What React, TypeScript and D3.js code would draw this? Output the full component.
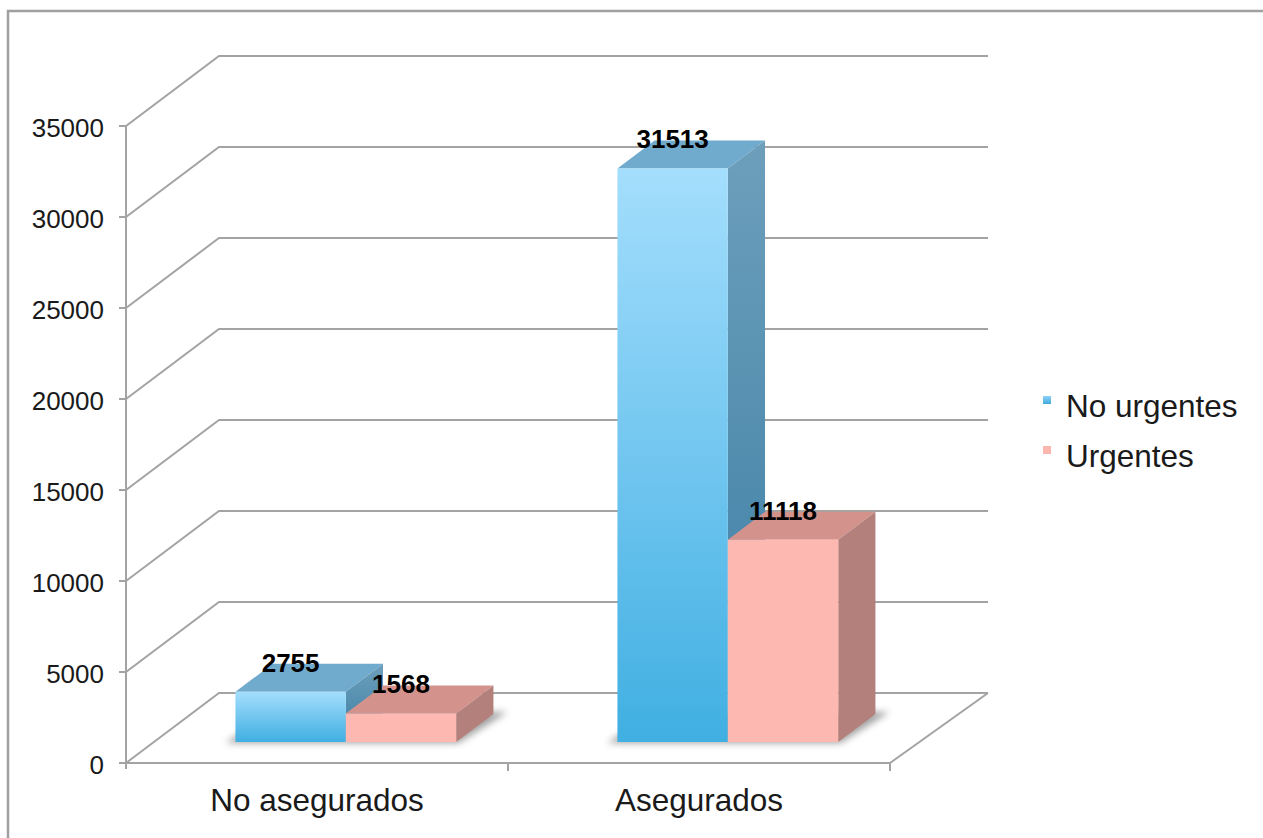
import React from "react";
import * as d3 from "d3";

const categories = ["No asegurados", "Asegurados"];
const seriesNames = ["No urgentes", "Urgentes"];
const noUrgentes = [2755, 31513];
const urgentes = [1568, 11118];
const yTicks = [0, 5000, 10000, 15000, 20000, 25000, 30000, 35000];

const W = 1263;
const H = 838;
const FONT = "'Liberation Sans', Arial, Helvetica, sans-serif";
const GRID = "#a3a3a3";

export default function App() {
  const left = 126;
  const right = 890;
  const y = d3.scaleLinear().domain([0, 35000]).range([763, 126]);
  const DX = 93;
  const DY = -70;
  const backRight = 988;

  const x0 = d3.scaleBand<string>().domain(categories).range([left, right]).padding(0);
  const x1 = d3
    .scaleBand<string>()
    .domain(seriesNames)
    .range([0, x0.bandwidth()])
    .paddingInner(0)
    .paddingOuter(0.73);

  const z0 = 0.31;
  const zd = 0.4;
  const fdx = z0 * DX;
  const fdy = z0 * DY;
  const bdx = zd * DX;
  const bdy = zd * DY;

  const values = [noUrgentes, urgentes];
  const colors = [
    { front: "url(#blueFront)", top: "#70aacd", side: "url(#blueSide)", legend: "url(#blueLegend)" },
    { front: "#fdb8b1", top: "#d4928c", side: "#b4807b", legend: "#fcb6b0" },
  ];

  const bars: any[] = [];
  categories.forEach((c, ci) => {
    seriesNames.forEach((s, si) => {
      const v = values[si][ci];
      const xl = (x0(c) as number) + (x1(s) as number) + fdx;
      const xr = xl + x1.bandwidth();
      const yb = y(0) - 21;
      const yt = y(v) - 21;
      bars.push({ c, s, si, v, xl, xr, yb, yt });
    });
  });

  const pts = (arr: number[][]) => arr.map((p) => p.join(",")).join(" ");

  return (
    <svg
      width={W}
      height={H}
      style={{ position: "absolute", left: 0, top: 0, background: "#fff" }}
      fontFamily={FONT}
    >
      <defs>
        <linearGradient id="blueFront" x1="0" y1="0" x2="0" y2="1">
          <stop offset="0" stopColor="#a4defd" />
          <stop offset="1" stopColor="#40afe2" />
        </linearGradient>
        <linearGradient id="blueSide" x1="0" y1="0" x2="0" y2="1">
          <stop offset="0" stopColor="#6d9fbb" />
          <stop offset="1" stopColor="#3b7ea5" />
        </linearGradient>
        <linearGradient id="blueLegend" x1="0" y1="0" x2="0" y2="1">
          <stop offset="0" stopColor="#8fd2f6" />
          <stop offset="1" stopColor="#3ea9dd" />
        </linearGradient>
        <filter id="shadowBlur" x="-50%" y="-50%" width="200%" height="200%">
          <feGaussianBlur stdDeviation="3.5" />
        </filter>
      </defs>

      <rect x={8} y={11} width={W + 20} height={H + 20} fill="none" stroke="#a0a0a0" strokeWidth={2.5} />

      {yTicks.map((t) => (
        <polyline
          key={"g" + t}
          points={pts([
            [left, y(t)],
            [left + DX, y(t) + DY],
            [backRight, y(t) + DY],
          ])}
          fill="none"
          stroke={GRID}
          strokeWidth={2}
        />
      ))}
      <line x1={right} y1={y(0)} x2={right + DX + 5} y2={y(0) + DY} stroke={GRID} strokeWidth={2} />
      <line x1={left} y1={y(0)} x2={right} y2={y(0)} stroke={GRID} strokeWidth={2} />
      <line x1={left} y1={y(35000)} x2={left} y2={y(0) + 6} stroke={GRID} strokeWidth={2} />
      {yTicks.map((t) => (
        <g key={"t" + t}>
          <line x1={left - 7} y1={y(t)} x2={left} y2={y(t)} stroke={GRID} strokeWidth={2} />
          <text x={104} y={y(t) + 11} textAnchor="end" fontSize={26} fill="#1a1a1a">
            {t}
          </text>
        </g>
      ))}
      {[...categories.map((c) => x0(c) as number), right].map((xv, i) =>
        i === 0 ? null : (
          <line key={"ct" + i} x1={xv} y1={y(0)} x2={xv} y2={y(0) + 8} stroke={GRID} strokeWidth={2} />
        )
      )}
      {categories.map((c) => (
        <text
          key={"cl" + c}
          x={(x0(c) as number) + x0.bandwidth() / 2}
          y={811}
          textAnchor="middle"
          fontSize={31.5}
          fill="#1a1a1a"
        >
          {c}
        </text>
      ))}

      {categories.map((c) => {
        const bs = bars.filter((b) => b.c === c);
        const xl = bs[0].xl;
        const xr = bs[bs.length - 1].xr;
        const yb = bs[0].yb;
        return (
          <polygon
            key={"sh" + c}
            points={pts([
              [xl - 10, yb + 1],
              [xr + 2, yb + 1],
              [xr + bdx + 14, yb + bdy - 2],
              [xl + bdx, yb + bdy - 2],
            ])}
            fill="#555"
            opacity={0.55}
            filter="url(#shadowBlur)"
          />
        );
      })}

      {bars.map((b, i) => {
        const col = colors[b.si];
        return (
          <g key={"b" + i}>
            <polygon
              points={pts([
                [b.xl, b.yt],
                [b.xl + bdx, b.yt + bdy],
                [b.xr + bdx, b.yt + bdy],
                [b.xr, b.yt],
              ])}
              fill={col.top}
            />
            <polygon
              points={pts([
                [b.xr, b.yt],
                [b.xr + bdx, b.yt + bdy],
                [b.xr + bdx, b.yb + bdy],
                [b.xr, b.yb],
              ])}
              fill={col.side}
            />
            <rect x={b.xl} y={b.yt} width={b.xr - b.xl} height={b.yb - b.yt} fill={col.front} />
          </g>
        );
      })}

      {bars.map((b, i) => (
        <text
          key={"vl" + i}
          x={(b.xl + b.xr) / 2}
          y={b.yt - 20}
          textAnchor="middle"
          fontSize={26}
          fontWeight="bold"
          fill="#000"
        >
          {b.v}
        </text>
      ))}

      {seriesNames.map((s, i) => (
        <g key={"lg" + s}>
          <rect x={1043} y={396 + i * 50} width={8} height={8} fill={colors[i].legend} />
          <text x={1066} y={417 + i * 50} fontSize={31.5} fill="#1a1a1a">
            {s}
          </text>
        </g>
      ))}
    </svg>
  );
}
